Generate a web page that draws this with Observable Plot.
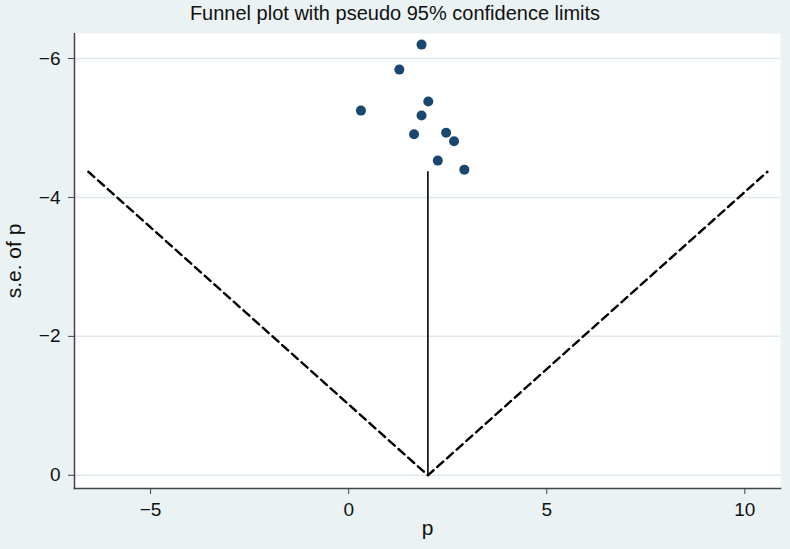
<!DOCTYPE html>
<html>
<head>
<meta charset="utf-8">
<script src="https://cdn.jsdelivr.net/npm/d3@7"></script>
<script src="https://cdn.jsdelivr.net/npm/@observablehq/plot@0.6"></script>
<style>
  html, body { margin: 0; padding: 0; background: #eaf2f3; }
  #title { height: 33px; line-height: 26px; text-align: center; font-family: "Liberation Sans", Arial, sans-serif; font-size: 20px; color: #111; }
  #chart svg { display: block; }
</style>
</head>
<body>
<div id="title">Funnel plot with pseudo 95% confidence limits</div>
<div id="chart"></div>
<script>
// Study estimates (p) and their (negated) standard errors
const pValues  = [1.84, 1.28, 2.01, 0.31, 1.84, 1.65, 2.46, 2.66, 2.25, 2.92];
const seValues = [-6.20, -5.84, -5.38, -5.25, -5.18, -4.91, -4.93, -4.81, -4.53, -4.40];

// Pseudo 95% confidence limits (funnel) and pooled estimate line
const funnelP  = [-6.57, 2.0, 10.57];
const funnelSE = [-4.37, 0, -4.37];
const pooledP  = [2.0, 2.0];
const pooledSE = [0, -4.37];

const xTicks = [-5, 0, 5, 10];
const yTicks = [-6, -4, -2, 0];
const xLabel = "p";
const yLabel = "s.e. of p";

const points = pValues.map((p, i) => ({p, se: seValues[i]}));
const funnel = funnelP.map((p, i) => ({p, se: funnelSE[i]}));
const pooled = pooledP.map((p, i) => ({p, se: pooledSE[i]}));

const chart = Plot.plot({
  width: 790,
  height: 516,
  marginLeft: 74,
  marginRight: 10,
  marginTop: 0,
  marginBottom: 61,
  style: { background: "#eaf2f3", fontFamily: "'Liberation Sans', Arial, sans-serif", fontSize: "19px", color: "#111" },
  x: { domain: [-6.92, 10.9] },
  y: { domain: [0.19, -6.36] },
  marks: [
    Plot.frame({ fill: "white", stroke: null }),
    Plot.gridY(yTicks, { stroke: "#dfe9eb", strokeOpacity: 1, strokeWidth: 1.5 }),
    Plot.line(funnel, { x: "p", y: "se", stroke: "black", strokeWidth: 2.4, strokeDasharray: "8,5" }),
    Plot.line(pooled, { x: "p", y: "se", stroke: "black", strokeWidth: 1.6 }),
    Plot.dot(points, { x: "p", y: "se", r: 5, fill: "#1a476f", stroke: null }),
    Plot.axisY(yTicks, { tickSize: 6, tickPadding: 8, tickFormat: "d", label: null, stroke: "#444" }),
    Plot.axisX(xTicks, { tickSize: 6, tickPadding: 8, tickFormat: "d", label: null, stroke: "#444" }),
    Plot.text([yLabel], { frameAnchor: "left", textAnchor: "middle", dx: -60, rotate: -90, fontSize: 21, fill: "#111" }),
    Plot.text([xLabel], { frameAnchor: "bottom", dy: 46, fontSize: 21, fill: "#111" }),
    Plot.frame({ anchor: "left", stroke: "#444", strokeWidth: 1.5 }),
    Plot.frame({ anchor: "bottom", stroke: "#444", strokeWidth: 1.5 })
  ]
});
document.getElementById("chart").appendChild(chart);
</script>
</body>
</html>
